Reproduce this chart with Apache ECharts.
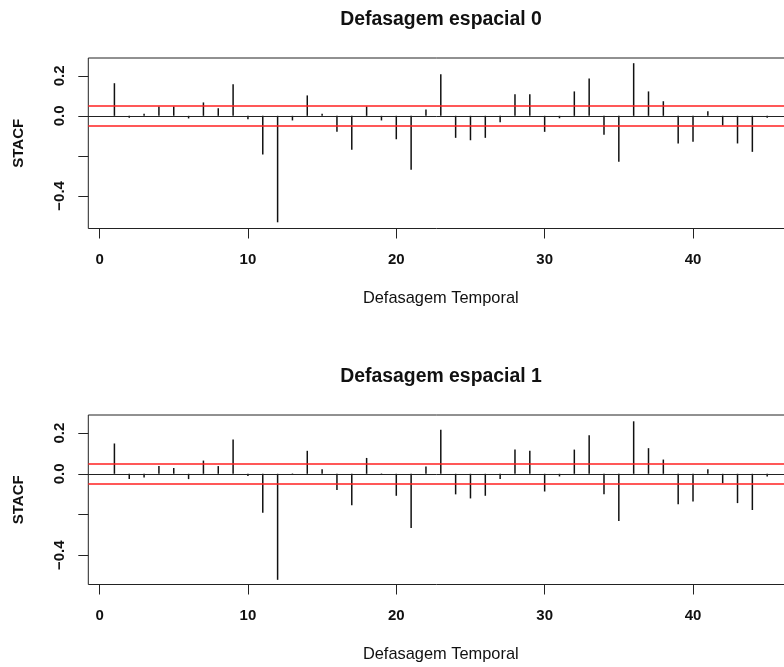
<!DOCTYPE html>
<html>
<head>
<meta charset="utf-8">
<script src="https://cdn.jsdelivr.net/npm/echarts@6/dist/echarts.min.js"></script>
<style>html,body{margin:0;padding:0;background:#fff}#c{width:784px;height:667px}</style>
</head>
<body>
<div id="c"></div>
<script>
const lags = [1,2,3,4,5,6,7,8,9,10,11,12,13,14,15,16,17,18,19,20,21,22,23,24,25,26,27,28,29,30,31,32,33,34,35,36,37,38,39,40,41,42,43,44,45];
const stacf0 = [0.163,-0.010,0.010,0.047,0.047,-0.013,0.067,0.038,0.158,-0.017,-0.193,-0.532,-0.023,0.102,0.010,-0.080,-0.170,0.047,-0.023,-0.117,-0.270,0.032,0.208,-0.110,-0.122,-0.110,-0.032,0.108,0.108,-0.080,-0.012,0.122,0.187,-0.095,-0.230,0.263,0.122,0.073,-0.138,-0.130,0.023,-0.048,-0.138,-0.180,-0.010];
const stacf1 = [0.149,-0.026,-0.018,0.038,0.029,-0.026,0.065,0.038,0.168,-0.011,-0.191,-0.521,0.002,0.113,0.023,-0.080,-0.155,0.078,0.002,-0.108,-0.266,0.036,0.217,-0.101,-0.121,-0.108,-0.026,0.119,0.113,-0.087,-0.013,0.119,0.190,-0.101,-0.232,0.258,0.126,0.070,-0.150,-0.136,0.023,-0.047,-0.144,-0.178,-0.013];
const limits0 = [0.050,-0.050];
const limits1 = [0.053,-0.050];
const titles = ['Defasagem espacial 0','Defasagem espacial 1'];
const xTicks = [0,10,20,30,40];
const yTicks = [-0.4,-0.2,0,0.2];
const yLabels = [-0.4,0,0.2];

const chart = echarts.init(document.getElementById('c'), null, {renderer:'canvas'});
const FONT = 'Liberation Sans, Arial, sans-serif';
const grids = [
  {left:88.3, top:58, width:705, height:170.5, show:true, borderColor:'#222', borderWidth:1, backgroundColor:'transparent', outerBoundsMode:'none', containLabel:false},
  {left:88.3, top:415, width:705, height:169.5, show:true, borderColor:'#222', borderWidth:1, backgroundColor:'transparent', outerBoundsMode:'none', containLabel:false}
];
const yRanges = [[-0.563,0.289],[-0.544,0.289]];
const fmt = v => {
  const r = Math.round(v*10)/10;
  return (r < 0 ? '\u2212' : '') + Math.abs(r).toFixed(1);
};
function xAxis(i){
  return {type:'value', gridIndex:i, min:-0.76, max:46.76,
    axisLine:{show:false, onZero:false},
    splitLine:{show:false},
    axisTick:{show:true, inside:false, length:10, customValues:xTicks, lineStyle:{color:'#222', width:1}},
    axisLabel:{customValues:xTicks, margin:24, fontSize:15, fontWeight:'bold', fontFamily:FONT, color:'#111'},
    name:'Defasagem Temporal', nameLocation:'middle', nameGap:62,
    nameTextStyle:{fontSize:16.4, fontFamily:FONT, color:'#111'}
  };
}
function yAxis(i){
  return {type:'value', gridIndex:i, min:yRanges[i][0], max:yRanges[i][1],
    axisLine:{show:false, onZero:false},
    splitLine:{show:false},
    axisTick:{show:true, inside:false, length:10, customValues:yTicks, lineStyle:{color:'#222', width:1}},
    axisLabel:{customValues:yLabels, rotate:90, margin:21, fontSize:15, fontWeight:'bold', fontFamily:FONT, color:'#111', formatter:fmt},
    name:'STACF', nameLocation:'middle', nameGap:62, nameRotate:90,
    nameTextStyle:{fontSize:15, fontWeight:'bold', fontFamily:FONT, color:'#111'}
  };
}
function series(i, vals, lim){
  return {type:'bar', xAxisIndex:i, yAxisIndex:i, barWidth:1.5,
    itemStyle:{color:'#111'},
    data: lags.map((l,k)=>[l, vals[k]]),
    markLine:{silent:true, symbol:['none','none'], label:{show:false}, animation:false,
      data:[
        {yAxis:0, lineStyle:{color:'#222', width:1, type:'solid'}},
        {yAxis:lim[0], lineStyle:{color:'#ff2020', width:1.6, type:'solid'}},
        {yAxis:lim[1], lineStyle:{color:'#ff2020', width:1.6, type:'solid'}}
      ]}
  };
}
chart.setOption({
  animation:false,
  backgroundColor:'#fff',
  title:[
    {text:titles[0], left:436, top:5, textAlign:'center', textStyle:{fontSize:19.4, fontWeight:'bold', fontFamily:FONT, color:'#111'}},
    {text:titles[1], left:436, top:362, textAlign:'center', textStyle:{fontSize:19.4, fontWeight:'bold', fontFamily:FONT, color:'#111'}}
  ],
  grid:grids,
  xAxis:[xAxis(0), xAxis(1)],
  yAxis:[yAxis(0), yAxis(1)],
  series:[series(0, stacf0, limits0), series(1, stacf1, limits1)]
});
</script>
</body>
</html>
